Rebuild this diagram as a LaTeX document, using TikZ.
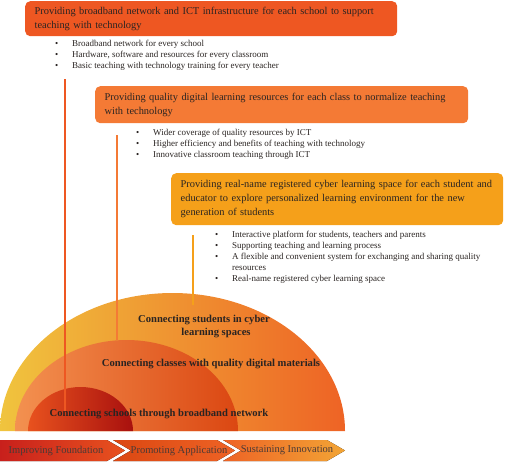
\documentclass[tikz,border=0pt]{standalone}
\usepackage{fontspec}
\setmainfont{Liberation Serif}
\usetikzlibrary{positioning,calc}
\definecolor{ember}{HTML}{EE5722}
\definecolor{flame}{HTML}{F47A35}
\definecolor{amber}{HTML}{F5A01A}
\definecolor{sun}{HTML}{F0C43E}
\definecolor{honey}{HTML}{F2A535}
\definecolor{blaze}{HTML}{EE6325}
\definecolor{peach}{HTML}{F39150}
\definecolor{rust}{HTML}{DB4712}
\definecolor{scarlet}{HTML}{E8521E}
\definecolor{maroon}{HTML}{A8100E}
\definecolor{crimson}{HTML}{C8201C}
\definecolor{ink}{HTML}{2A2422}
\definecolor{smoke}{HTML}{4A3A36}
\tikzset{
  goal/.style={fill=#1,rounded corners=5pt,align=left,anchor=north west,inner xsep=9.5pt,
    font=\fontsize{10.4}{14}\selectfont,text=ink},
  items/.style={align=left,anchor=north west,inner sep=0pt,font=\fontsize{9}{10.9}\selectfont,text=ink},
  tie/.style={draw=#1,line width=1.7pt},
  ring/.style={white,line width=0.9pt},
  ringtext/.style={font=\bfseries\fontsize{10.6}{13}\selectfont,text=ink,align=center},
  chev/.style={font=\fontsize{10.5}{12}\selectfont,text=smoke},
}
\newcommand{\bul}{\makebox[17pt][l]{\textbullet}}

\begin{document}
\begin{tikzpicture}[x=1pt,y=-1pt]
  \useasboundingbox (0,0) rectangle (506,461);
  % goals
  \node[goal=ember,text width=353pt,minimum height=35pt] (b1) at (25,1)
    {Providing broadband network and ICT infrastructure for each school to support\\teaching with technology};
  \node[goal=flame,text width=354pt,minimum height=37pt] (b2) at (95,86)
    {Providing quality digital learning resources for each class to normalize teaching\\with technology};
  \node[goal=amber,text width=313pt,minimum height=52pt] (b3) at (171,173)
    {Providing real-name registered cyber learning space for each student and\\educator to explore personalized learning environment for the new\\generation of students};
  \node[items] (i1) at (55,40) {\bul Broadband network for every school\\ \bul Hardware, software and resources for every classroom\\ \bul Basic teaching with technology training for every teacher};
  \node[items] (i2) at (136,129) {\bul Wider coverage of quality resources by ICT\\ \bul Higher efficiency and benefits of teaching with technology\\ \bul Innovative classroom teaching through ICT};
  \node[items] (i3) at (215,231) {\bul Interactive platform for students, teachers and parents\\ \bul Supporting teaching and learning process\\ \bul A flexible and convenient system for exchanging and sharing quality\\ \makebox[17pt]{}resources\\ \bul Real-name registered cyber learning space};
  % rings
  \path[left color=sun,middle color=honey,right color=blaze] (0,431) arc[start angle=180,end angle=0,x radius=172.5pt,y radius=138pt] -- cycle;
  \path[ring,left color=peach,right color=rust] (15,431) arc[start angle=180,end angle=0,x radius=111.5pt,y radius=91pt] -- cycle;
  \path[ring,left color=scarlet,right color=maroon] (28,431) arc[start angle=180,end angle=0,x radius=52.5pt,y radius=44pt] -- cycle;
  % ties
  \coordinate (t1) at (65,79);  \coordinate (r1) at (65,411);
  \coordinate (t2) at (117,135); \coordinate (r2) at (117,340);
  \coordinate (t3) at (193,235); \coordinate (r3) at (193,305);
  \draw[tie=ember] (t1) -- (r1);
  \draw[tie=flame] (t2) -- (r2);
  \draw[tie=amber] (t3) -- (r3);
  \node[ringtext] (n3) at (204,326) {Connecting students in cyber\\\hspace*{24pt}learning spaces};
  \node[ringtext] (n2) at (211,364) {Connecting classes with quality digital materials};
  \node[ringtext] (n1) at (159,414) {Connecting schools through broadband network};
  % phases
  \fill[left color=crimson,right color=scarlet] (0,440) -- (107,440) -- (125,450.5) -- (107,461) -- (0,461) -- cycle;
  \fill[left color=rust,right color=blaze] (113,440) -- (217,440) -- (235,450.5) -- (217,461) -- (113,461) -- (131,450.5) -- cycle;
  \fill[left color=blaze,right color=honey] (223,440) -- (327,440) -- (345,450.5) -- (327,461) -- (223,461) -- (241,450.5) -- cycle;
  \node[chev] (p1) at (56,450.5) {Improving Foundation};
  \node[chev] (p2) at (179,450.5) {Promoting Application};
  \node[chev] (p3) at (287,450.5) {Sustaining Innovation};
\end{tikzpicture}
\end{document}
